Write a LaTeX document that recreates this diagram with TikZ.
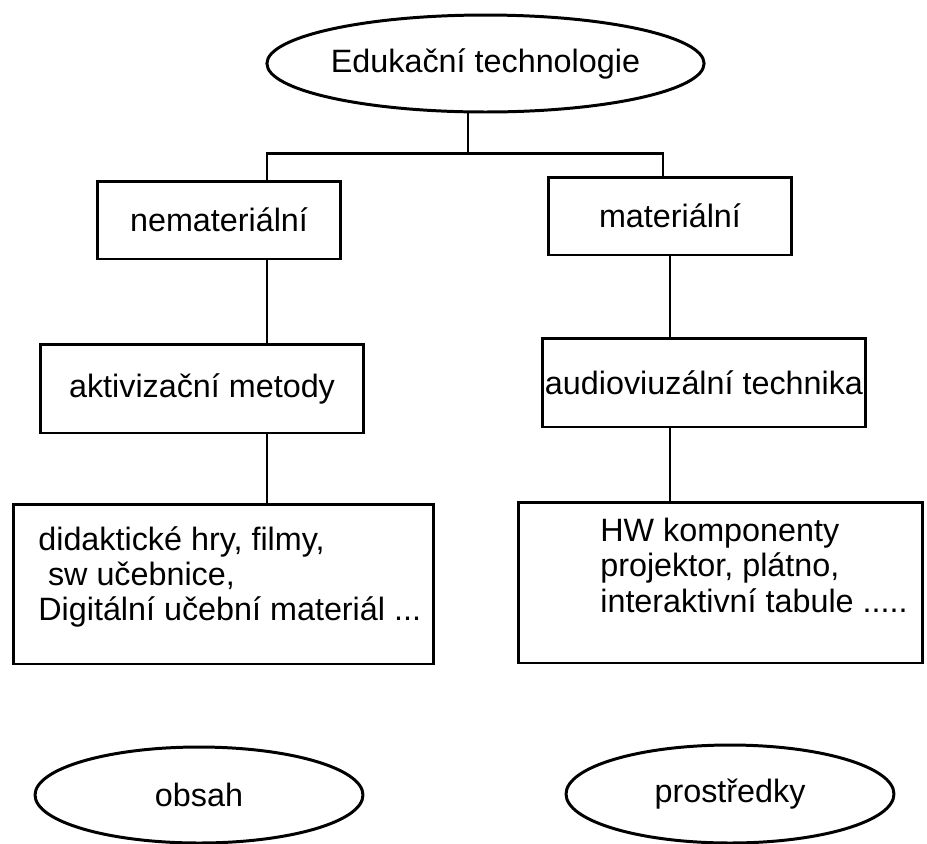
\documentclass[tikz,border=0pt]{standalone}
\usepackage{fontspec}
\setmainfont{Liberation Sans}
\usetikzlibrary{shapes.geometric}

\begin{document}
\begin{tikzpicture}[x=0.02cm,y=-0.02cm,
  every node/.style={font=\fontsize{18.4}{20}\selectfont, inner sep=0pt},
  box/.style={draw, line width=1.7pt, rectangle},
  oval/.style={draw, line width=1.7pt, ellipse},
  link/.style={line width=1.7pt}]
\useasboundingbox (0,0) rectangle (927,843);
% hlavni pojem
\node[oval, minimum width=8.1cm, minimum height=1.94cm] (edu) at (485.5,63.5) {Edukační technologie};
\coordinate (hub) at (468,153);
\coordinate (brL) at (267,153);
\coordinate (brR) at (663,153);
% prvni uroven
\node[box, minimum width=4.88cm, minimum height=1.56cm] (nemat) at (219,220) {nemateriální};
\node[box, minimum width=4.88cm, minimum height=1.56cm] (mat) at (670,216) {materiální};
% druha uroven
\node[box, minimum width=6.48cm, minimum height=1.78cm] (akt) at (202,388.5) {aktivizační metody};
\node[box, minimum width=6.48cm, minimum height=1.78cm] (avt) at (704,382.5) {audioviuzální technika};
% priklady
\node[box, minimum width=8.42cm, minimum height=3.2cm] (prikL) at (223.5,584) {};
\node[box, minimum width=8.1cm, minimum height=3.22cm] (prikR) at (720.5,582.5) {};
\node[anchor=north west, align=left] (txtL) at (38,526) {didaktické hry, filmy,\\ \hspace*{0.3em}sw učebnice,\\ Digitální učební materiál ...};
\node[anchor=north west, align=left] (txtR) at (600,518) {HW komponenty\\ projektor, plátno,\\ interaktivní tabule .....};
% spodni pojmy
\node[oval, minimum width=6.56cm, minimum height=1.92cm] (obsah) at (199,795) {obsah};
\node[oval, minimum width=6.56cm, minimum height=1.96cm] (prostr) at (730,794) {prostředky};
% spojnice
\draw[link] (edu.south -| hub) -- (hub);
\draw[link] (brL |- nemat.north) -- (brL) -- (brR) -- (brR |- mat.north);
\draw[link] (nemat.south -| brL) -- (akt.north -| brL);
\draw[link] (akt.south -| brL) -- (prikL.north -| brL);
\draw[link] (mat.south) -- (mat.south |- avt.north);
\draw[link] (avt.south -| mat.south) -- (prikR.north -| mat.south);
\end{tikzpicture}
\end{document}
